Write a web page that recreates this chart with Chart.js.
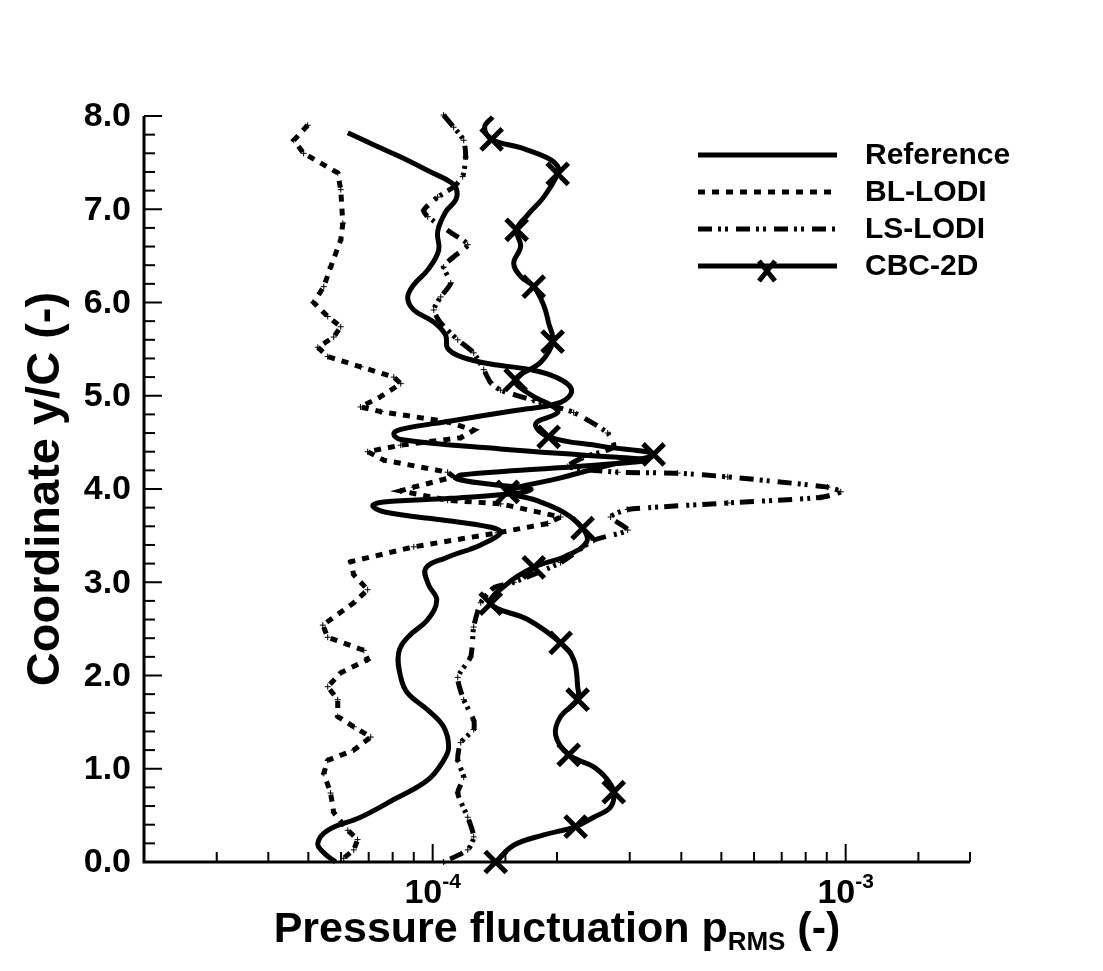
<!DOCTYPE html>
<html>
<head>
<meta charset="utf-8">
<script src="https://cdn.jsdelivr.net/npm/chart.js@4.4.0/dist/chart.umd.min.js"></script>
<style>
html, body { margin: 0; padding: 0; background: #fff; }
canvas { display: block; }
</style>
</head>
<body>
<canvas id="grafic" width="1103" height="971"></canvas>
<script>
// Reference
var refX = [6.23e-5, 7.28e-5, 8.37e-5, 9.89e-5, 1.106e-4, 1.143e-4, 1.137e-4, 1.075e-4, 1.028e-4, 1.034e-4,
    9.73e-5, 9.00e-5, 8.70e-5, 9.00e-5, 1.006e-4, 1.075e-4, 1.087e-4, 1.169e-4, 1.382e-4, 1.727e-4,
    2.008e-4, 2.170e-4, 2.041e-4, 1.571e-4, 1.106e-4, 8.37e-5, 8.05e-5, 8.37e-5, 1.461e-4, 2.551e-4,
    3.280e-4, 2.551e-4, 1.633e-4, 1.169e-4, 1.143e-4, 1.382e-4, 1.727e-4, 1.633e-4, 1.106e-4, 7.61e-5,
    7.16e-5, 7.70e-5, 1.046e-4, 1.382e-4, 1.461e-4, 1.307e-4, 1.075e-4, 9.62e-5, 9.78e-5, 1.023e-4,
    9.73e-5, 8.70e-5, 8.27e-5, 8.37e-5, 8.70e-5, 9.73e-5, 1.063e-4, 1.093e-4, 1.063e-4, 9.73e-5,
    8.05e-5, 6.69e-5, 5.57e-5, 5.27e-5, 5.45e-5, 5.82e-5];
var refY = [7.82, 7.68, 7.56, 7.40, 7.29, 7.21, 7.10, 6.97, 6.76, 6.56,
    6.35, 6.19, 6.05, 5.92, 5.79, 5.65, 5.51, 5.42, 5.34, 5.28,
    5.19, 5.06, 4.93, 4.84, 4.73, 4.64, 4.59, 4.53, 4.43, 4.35,
    4.31, 4.26, 4.20, 4.15, 4.11, 4.05, 4.00, 3.96, 3.90, 3.86,
    3.82, 3.75, 3.67, 3.59, 3.53, 3.40, 3.26, 3.15, 2.97, 2.81,
    2.60, 2.41, 2.24, 1.98, 1.81, 1.63, 1.45, 1.23, 1.09, 0.88,
    0.67, 0.48, 0.34, 0.20, 0.10, 0.00];

// BL-LODI
var blX = [4.98e-5, 4.61e-5, 4.87e-5, 5.89e-5, 5.99e-5, 6.06e-5, 5.99e-5, 5.66e-5, 5.45e-5, 5.15e-5,
    5.57e-5, 5.99e-5, 5.76e-5, 5.27e-5, 5.57e-5, 6.69e-5, 8.05e-5, 8.37e-5, 7.48e-5, 6.69e-5,
    7.48e-5, 1.087e-4, 1.257e-4, 1.169e-4, 8.37e-5, 6.96e-5, 7.61e-5, 1.087e-4, 1.124e-4, 9.00e-5,
    8.37e-5, 1.087e-4, 1.461e-4, 2.041e-4, 1.898e-4, 1.436e-4, 9.00e-5, 6.33e-5, 6.44e-5, 6.96e-5,
    6.44e-5, 5.42e-5, 5.57e-5, 6.81e-5, 6.96e-5, 5.99e-5, 5.57e-5, 5.89e-5, 5.89e-5, 6.44e-5,
    7.08e-5, 6.44e-5, 5.57e-5, 5.45e-5, 5.66e-5, 5.76e-5, 6.23e-5, 6.58e-5, 6.44e-5, 6.09e-5];
var blY = [7.90, 7.74, 7.60, 7.39, 7.21, 6.85, 6.67, 6.38, 6.17, 6.00,
    5.85, 5.74, 5.63, 5.52, 5.42, 5.31, 5.20, 5.13, 4.99, 4.88,
    4.83, 4.72, 4.63, 4.55, 4.47, 4.40, 4.31, 4.18, 4.13, 4.02,
    3.98, 3.88, 3.84, 3.70, 3.63, 3.53, 3.38, 3.22, 3.08, 2.92,
    2.78, 2.54, 2.41, 2.27, 2.17, 2.03, 1.88, 1.74, 1.56, 1.45,
    1.34, 1.20, 1.09, 0.95, 0.74, 0.53, 0.34, 0.24, 0.13, 0.04];

// LS-LODI
var lsX = [1.063e-4, 1.124e-4, 1.189e-4, 1.202e-4, 1.182e-4, 1.124e-4, 1.028e-4, 9.51e-5, 9.73e-5, 1.106e-4,
    1.216e-4, 1.124e-4, 1.063e-4, 1.106e-4, 1.046e-4, 1.006e-4, 1.046e-4, 1.150e-4, 1.257e-4, 1.329e-4,
    1.382e-4, 1.461e-4, 1.757e-4, 2.195e-4, 2.653e-4, 2.744e-4, 2.320e-4, 2.123e-4, 2.805e-4, 3.919e-4,
    5.181e-4, 9.04e-4, 9.73e-4, 8.70e-4, 5.181e-4, 2.966e-4, 2.697e-4, 2.966e-4, 2.454e-4, 2.041e-4,
    1.571e-4, 1.405e-4, 1.307e-4, 1.257e-4, 1.236e-4, 1.150e-4, 1.189e-4, 1.257e-4, 1.257e-4, 1.169e-4,
    1.150e-4, 1.189e-4, 1.150e-4, 1.216e-4, 1.257e-4, 1.216e-4, 1.063e-4];
var lsY = [8.01, 7.88, 7.74, 7.56, 7.35, 7.24, 7.13, 6.99, 6.92, 6.75,
    6.62, 6.49, 6.38, 6.21, 6.06, 5.92, 5.78, 5.60, 5.46, 5.28,
    5.14, 5.06, 4.95, 4.82, 4.60, 4.45, 4.34, 4.24, 4.18, 4.17,
    4.13, 4.02, 3.97, 3.91, 3.85, 3.78, 3.70, 3.56, 3.45, 3.21,
    3.00, 2.94, 2.78, 2.52, 2.20, 1.98, 1.74, 1.52, 1.42, 1.28,
    1.09, 0.91, 0.74, 0.48, 0.27, 0.13, 0.00];

// CBC-2D
var cbcX = [1.397e-4, 1.336e-4, 1.389e-4, 1.633e-4, 1.898e-4, 2.008e-4, 2.008e-4, 1.857e-4, 1.699e-4, 1.597e-4,
    1.633e-4, 1.571e-4, 1.633e-4, 1.757e-4, 1.857e-4, 1.909e-4, 1.952e-4, 1.826e-4, 1.588e-4, 1.727e-4,
    1.931e-4, 2.008e-4, 1.776e-4, 1.909e-4, 2.551e-4, 3.428e-4, 2.697e-4, 2.041e-4, 1.519e-4, 1.776e-4,
    2.076e-4, 2.307e-4, 2.359e-4, 2.099e-4, 1.757e-4, 1.502e-4, 1.382e-4, 1.699e-4, 2.041e-4, 2.195e-4,
    2.244e-4, 2.244e-4, 2.041e-4, 1.985e-4, 2.135e-4, 2.454e-4, 2.653e-4, 2.744e-4, 2.697e-4, 2.454e-4,
    2.219e-4, 1.857e-4, 1.571e-4, 1.421e-4];
var cbcY = [7.99, 7.88, 7.75, 7.66, 7.55, 7.46, 7.38, 7.13, 6.94, 6.78,
    6.60, 6.42, 6.28, 6.17, 5.97, 5.78, 5.58, 5.36, 5.17, 5.01,
    4.90, 4.82, 4.70, 4.56, 4.46, 4.37, 4.26, 4.12, 3.97, 3.88,
    3.75, 3.58, 3.43, 3.28, 3.16, 2.97, 2.77, 2.60, 2.35, 2.17,
    1.88, 1.74, 1.56, 1.36, 1.15, 1.02, 0.88, 0.75, 0.59, 0.48,
    0.38, 0.29, 0.18, 0.00];
// punts de la serie CBC-2D que porten la creu
var cbcMarques = [2, 6, 9, 13, 16, 18, 23, 25, 28, 31, 34, 36, 38, 41, 44, 47, 50, 53];

var nomsSeries = ['Reference', 'BL-LODI', 'LS-LODI', 'CBC-2D'];
var ticksY = [0, 1, 2, 3, 4, 5, 6, 7, 8];
var ticksXMajors = [1e-4, 1e-3];

var FONT = "'Liberation Sans', Arial, Helvetica, sans-serif";

function parells(xs, ys) {
    return xs.map(function(x, i) { return { x: x, y: ys[i] }; });
}

function dibuixarCreu(ctx, x, y, rx, ry) {
    ctx.beginPath();
    ctx.moveTo(x - rx, y - ry); ctx.lineTo(x + rx, y + ry);
    ctx.moveTo(x + rx, y - ry); ctx.lineTo(x - rx, y + ry);
    ctx.stroke();
}

var pluginEixos = {
    id: 'eixos',
    afterDatasetsDraw: function(chart) {
        var ctx = chart.ctx;
        var area = chart.chartArea;
        var sx = chart.scales.x;
        var sy = chart.scales.y;
        ctx.save();
        ctx.strokeStyle = '#000';
        ctx.fillStyle = '#000';
        ctx.setLineDash([]);

        // eixos
        ctx.lineWidth = 3;
        ctx.beginPath();
        ctx.moveTo(area.left, area.top);
        ctx.lineTo(area.left, area.bottom);
        ctx.lineTo(area.right, area.bottom);
        ctx.stroke();

        // marques de l'eix Y (cap a dins)
        ctx.lineWidth = 2;
        sy.ticks.forEach(function(t) {
            var v = Math.round(t.value * 5) / 5;
            var major = Math.abs(v - Math.round(v)) < 1e-6;
            var py = sy.getPixelForValue(v);
            ctx.beginPath();
            ctx.moveTo(area.left, py);
            ctx.lineTo(area.left + (major ? 18 : 11), py);
            ctx.stroke();
        });

        // marques de l'eix X
        sx.ticks.forEach(function(t) {
            var v = t.value;
            var e = Math.floor(Math.log10(v) + 1e-9);
            var m = v / Math.pow(10, e);
            var major = Math.abs(m - 1) < 1e-6;
            var px = sx.getPixelForValue(v);
            if (px <= area.left + 2) return;
            ctx.beginPath();
            ctx.moveTo(px, area.bottom);
            ctx.lineTo(px, area.bottom - (major ? 18 : 10));
            ctx.stroke();
        });

        // etiquetes Y
        ctx.font = 'bold 34px ' + FONT;
        ctx.textAlign = 'right';
        ctx.textBaseline = 'middle';
        ticksY.forEach(function(v) {
            ctx.fillText(v.toFixed(1), area.left - 13, sy.getPixelForValue(v) + 1);
        });

        // etiquetes X: 10 amb exponent
        ctx.textAlign = 'left';
        ctx.textBaseline = 'alphabetic';
        ticksXMajors.forEach(function(v) {
            var px = sx.getPixelForValue(v);
            var exp = String(Math.round(Math.log10(v)));
            ctx.font = 'bold 34px ' + FONT;
            var w1 = ctx.measureText('10').width;
            ctx.font = 'bold 21px ' + FONT;
            var w2 = ctx.measureText(exp).width;
            var x0 = px - (w1 + w2) / 2;
            ctx.font = 'bold 34px ' + FONT;
            ctx.fillText('10', x0, area.bottom + 41);
            ctx.font = 'bold 21px ' + FONT;
            ctx.fillText(exp, x0 + w1, area.bottom + 26);
        });

        // títol eix X amb subíndex
        var parts = [
            { t: 'Pressure fluctuation p', f: 'bold 43px ', dy: 0 },
            { t: 'RMS', f: 'bold 26px ', dy: 8 },
            { t: ' (-)', f: 'bold 43px ', dy: 0 }
        ];
        var total = 0;
        parts.forEach(function(p) {
            ctx.font = p.f + FONT;
            p.w = ctx.measureText(p.t).width;
            total += p.w;
        });
        var xx = (area.left + area.right) / 2 - total / 2;
        parts.forEach(function(p) {
            ctx.font = p.f + FONT;
            ctx.fillText(p.t, xx, 942 + p.dy);
            xx += p.w;
        });

        // títol eix Y
        ctx.save();
        ctx.translate(59, (area.top + area.bottom) / 2);
        ctx.rotate(-Math.PI / 2);
        ctx.font = 'bold 47px ' + FONT;
        ctx.textAlign = 'center';
        ctx.fillText('Coordinate y/C (-)', 0, 0);
        ctx.restore();

        // llegenda
        var files = [155, 192, 229, 266];
        chart.data.datasets.forEach(function(ds, i) {
            var y = files[i];
            ctx.lineWidth = 5;
            ctx.setLineDash(ds.borderDash || []);
            ctx.beginPath();
            ctx.moveTo(698, y);
            ctx.lineTo(837, y);
            ctx.stroke();
            ctx.setLineDash([]);
            if (i === 3) {
                ctx.lineWidth = 5;
                dibuixarCreu(ctx, 767, y + 5, 8, 10);
            }
            ctx.font = 'bold 30px ' + FONT;
            ctx.textAlign = 'left';
            ctx.textBaseline = 'middle';
            ctx.fillText(nomsSeries[i], 865, y + 1);
            ctx.textBaseline = 'alphabetic';
        });
        ctx.restore();
    }
};

var ctx = document.getElementById('grafic').getContext('2d');
var grafic = new Chart(ctx, {
    type: 'scatter',
    data: {
        datasets: [{
            label: nomsSeries[0],
            data: parells(refX, refY),
            showLine: true,
            borderColor: '#000',
            borderWidth: 5,
            tension: 0.4,
            pointRadius: 0,
            clip: false
        }, {
            label: nomsSeries[1],
            data: parells(blX, blY),
            showLine: true,
            borderColor: '#000',
            borderWidth: 5,
            borderDash: [7, 7],
            tension: 0,
            pointStyle: 'cross',
            pointRadius: 3,
            pointBorderWidth: 1,
            pointBorderColor: '#000',
            clip: false
        }, {
            label: nomsSeries[2],
            data: parells(lsX, lsY),
            showLine: true,
            borderColor: '#000',
            borderWidth: 5,
            borderDash: [14, 6, 3, 4, 3, 8],
            tension: 0.2,
            pointStyle: 'cross',
            pointRadius: 3,
            pointBorderWidth: 1,
            pointBorderColor: '#000',
            clip: false
        }, {
            label: nomsSeries[3],
            data: parells(cbcX, cbcY),
            showLine: true,
            borderColor: '#000',
            borderWidth: 5,
            tension: 0.4,
            pointStyle: 'crossRot',
            pointRadius: function(c) { return cbcMarques.indexOf(c.dataIndex) >= 0 ? 15 : 0; },
            pointBorderWidth: 5,
            pointBorderColor: '#000',
            pointBackgroundColor: '#000',
            clip: false
        }]
    },
    options: {
        responsive: false,
        devicePixelRatio: 1,
        animation: false,
        events: [],
        layout: { padding: { top: 116, right: 133, left: 0, bottom: 0 } },
        plugins: { legend: { display: false }, tooltip: { enabled: false } },
        scales: {
            x: {
                type: 'logarithmic',
                min: 2e-5,
                max: 2e-3,
                grid: { display: false, drawTicks: false },
                border: { display: false },
                ticks: { display: false },
                afterFit: function(s) { s.height = 109; }
            },
            y: {
                type: 'linear',
                min: 0,
                max: 8,
                grid: { display: false, drawTicks: false },
                border: { display: false },
                ticks: { display: false, stepSize: 0.2 },
                afterFit: function(s) { s.width = 144; }
            }
        }
    },
    plugins: [pluginEixos]
});
</script>
</body>
</html>
